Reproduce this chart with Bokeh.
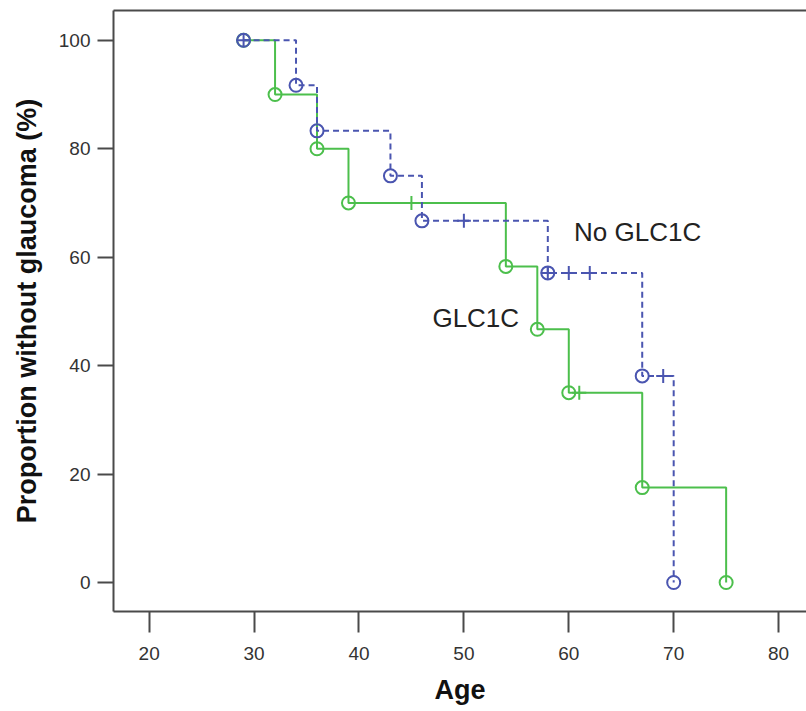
from bokeh.plotting import figure
from bokeh.models import Range1d, FixedTicker, LinearAxis
from bokeh.core.properties import value
from bokeh.embed import file_html
from bokeh.resources import INLINE

# GLC1C group (green, solid)
glc_ages = [29, 32, 36, 39, 54, 57, 60, 67, 75]
glc_surv = [100, 90, 80, 70, 58.3, 46.7, 35, 17.5, 0]
glc_cens_ages = [45, 61]
glc_cens_surv = [70, 35]

# No GLC1C group (blue, dashed)
no_ages = [29, 34, 36, 43, 46, 58, 67, 70]
no_surv = [100, 91.7, 83.3, 75, 66.7, 57.1, 38.1, 0]
no_cens_ages = [29, 50, 58, 60, 62, 69]
no_cens_surv = [100, 66.7, 57.1, 57.1, 57.1, 38.1]

x_ticks = [20, 30, 40, 50, 60, 70, 80]
y_ticks = [0, 20, 40, 60, 80, 100]

GREEN = "#4cbf4c"
BLUE = "#4a55b0"
FRAME = "#4a4a4a"
FONT = "Liberation Sans"

p = figure(width=806, height=711, output_backend="svg", toolbar_location=None,
           x_range=Range1d(16.6, 82.66), y_range=Range1d(-5.35, 105.5),
           min_border_left=113, min_border_right=0, min_border_top=10, min_border_bottom=100)

p.xgrid.visible = False
p.ygrid.visible = False
p.outline_line_color = None
p.background_fill_color = "white"

xaxis = p.below[0]
yaxis = p.left[0]

# top frame line (right edge runs off the picture)
top = LinearAxis(ticker=FixedTicker(ticks=[]), axis_line_color=FRAME, axis_line_width=2,
                 major_label_text_font_size="0px", major_tick_line_color=None,
                 minor_tick_line_color=None, major_tick_out=0, major_tick_in=0,
                 major_label_standoff=0)
p.add_layout(top, "above")

# steps
p.step(glc_ages, glc_surv, mode="after", line_color=GREEN, line_width=2)
p.step(no_ages, no_surv, mode="after", line_color=BLUE, line_width=2, line_dash="6 4")

# event circles
p.scatter(glc_ages, glc_surv, marker="circle", size=13, fill_alpha=0,
          line_color=GREEN, line_width=2)
p.scatter(no_ages, no_surv, marker="circle", size=13, fill_alpha=0,
          line_color=BLUE, line_width=2)

# censored crosses
p.scatter(glc_cens_ages, glc_cens_surv, marker="cross", size=14,
          line_color=GREEN, line_width=2)
p.scatter(no_cens_ages, no_cens_surv, marker="cross", size=14,
          line_color=BLUE, line_width=2)

# group labels
p.text(x=[60.5], y=[64.6], text=["No GLC1C"], text_font=value(FONT),
       text_font_size="26px", text_color="#222222", text_baseline="middle", text_align="left")
p.text(x=[47.0], y=[48.7], text=["GLC1C"], text_font=value(FONT),
       text_font_size="26px", text_color="#222222", text_baseline="middle", text_align="left")

for ax in (xaxis, yaxis):
    ax.axis_line_color = FRAME
    ax.axis_line_width = 2
    ax.major_tick_line_color = FRAME
    ax.major_tick_line_width = 2
    ax.minor_tick_line_color = None
    ax.major_tick_in = 0
    ax.major_label_text_font = FONT
    ax.major_label_text_font_size = "19px"
    ax.major_label_text_color = "#333333"
    ax.axis_label_text_font = FONT
    ax.axis_label_text_font_style = "bold"
    ax.axis_label_text_color = "#111111"

xaxis.ticker = FixedTicker(ticks=x_ticks)
yaxis.ticker = FixedTicker(ticks=y_ticks)
xaxis.major_tick_out = 21
yaxis.major_tick_out = 16
xaxis.major_label_standoff = 14
yaxis.major_label_standoff = 7
xaxis.axis_label = "Age"
yaxis.axis_label = "Proportion without glaucoma (%)"
xaxis.axis_label_text_font_size = "27px"
yaxis.axis_label_text_font_size = "27px"
xaxis.axis_label_standoff = 12
yaxis.axis_label_standoff = 14

open("out.html", "w").write(file_html(p, INLINE))
